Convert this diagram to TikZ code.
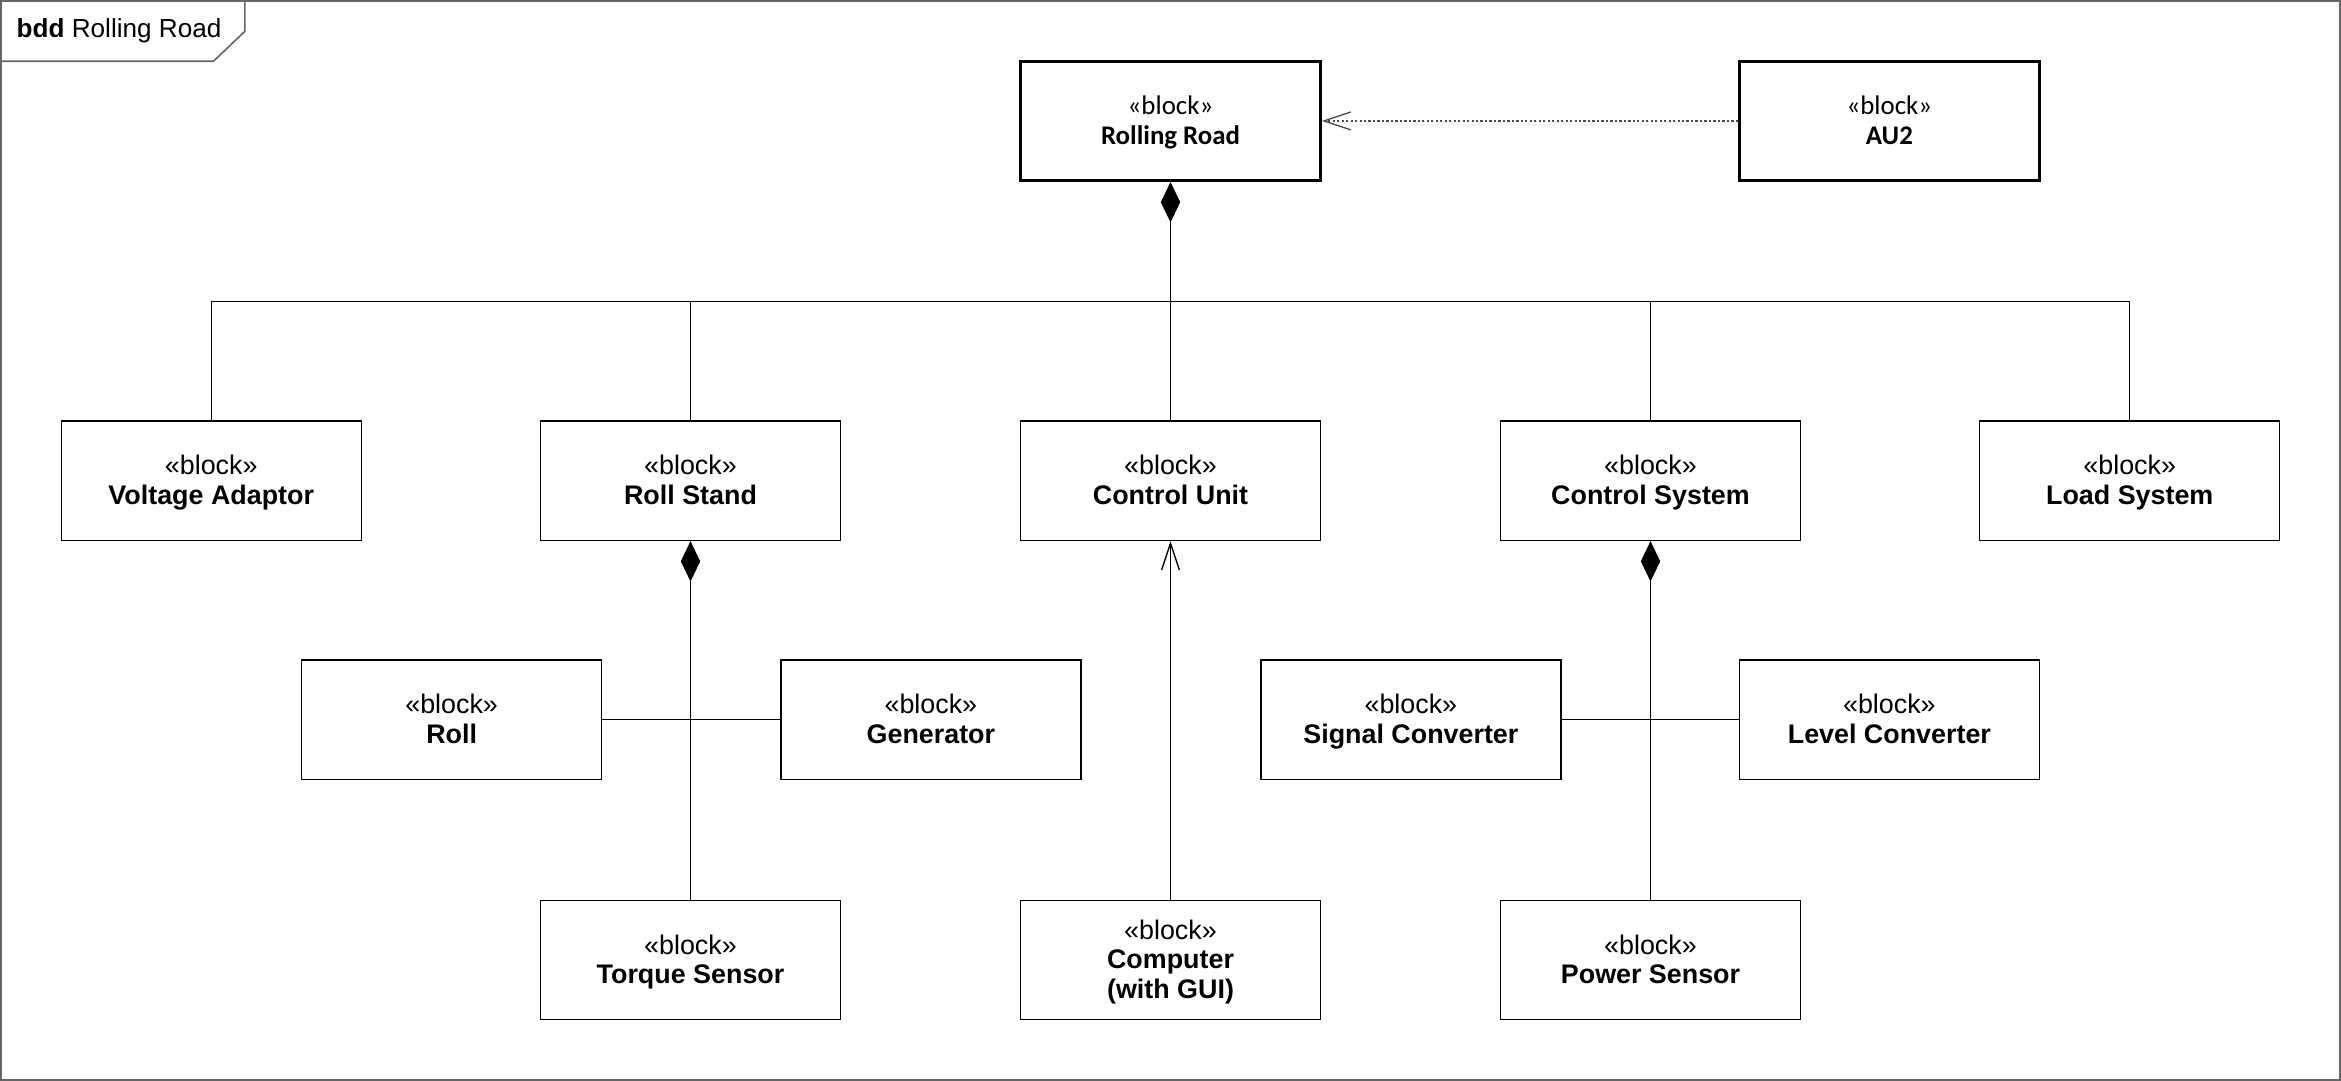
\documentclass[tikz,border=0pt]{standalone}
\usepackage{fontspec}
\setmainfont{Liberation Sans}
\newfontfamily\calibri{Carlito}
\usetikzlibrary{arrows.meta}
\newcommand\topstrut{\rule{0pt}{18pt}}

\begin{document}
\begin{tikzpicture}[x=1pt,y=-1pt,
		block/.style={draw, line width=0.9pt, minimum width=201pt, minimum height=80pt,
			align=center, inner sep=0pt, font=\fontsize{18}{20}\selectfont},
		mainblock/.style={block, line width=1.8pt},
		partof/.style={line width=0.9pt, {Diamond[length=27pt,width=13pt]}-},
		usedby/.style={line width=0.9pt, -{Straight Barb[length=18pt,width=12pt]}}]
			\useasboundingbox (0,0) rectangle (1568,724);
			% Draw diagram frame with its name tab
			\draw[black!60, line width=1.3pt] (0.7,0.7) rectangle (1567.3,723.3);
			\draw[black!60, line width=1.1pt] (0,41) -- (143,41) -- (164,21) -- (164,0);
			\node[anchor=base west, inner sep=0pt, font=\fontsize{17.5}{20}\selectfont] (title) at (11,25) {\textbf{bdd} Rolling Road};
			% Top level blocks
			\node[mainblock] (rr) at (784,81) {\calibri\topstrut«block»\\\calibri\bfseries\strut Rolling Road};
			\node[mainblock] (au) at (1265.5,81) {\calibri\topstrut«block»\\\calibri\bfseries\strut AU2};
			% Parts of the rolling road
			\foreach \name/\x/\label in {va/141.5/Voltage Adaptor, rs/462.5/Roll Stand, cu/784/Control Unit, cs/1105.5/Control System, ls/1426.5/Load System} {
				\node[block] (\name) at (\x,322) {\topstrut«block»\\\strut\textbf{\label}};
			}
			% Parts of roll stand and control system
			\foreach \name/\x/\label in {roll/302.5/Roll, gen/623.5/Generator, sc/945/Signal Converter, lc/1265.5/Level Converter} {
				\node[block] (\name) at (\x,482) {\topstrut«block»\\\strut\textbf{\label}};
			}
			\node[block] (ts) at (462.5,643) {\topstrut«block»\\\strut\textbf{Torque Sensor}};
			\node[block] (pc) at (784,643) {\topstrut«block»\\\strut\textbf{Computer}\\\strut\textbf{(with GUI)}};
			\node[block] (ps) at (1105.5,643) {\topstrut«block»\\\strut\textbf{Power Sensor}};
			% Composition of the rolling road
			\coordinate (bus) at (784,202);
			\draw[partof] (rr.south) -- (bus);
			\draw[line width=0.9pt] (va.north) -- (va.north |- bus) -- (ls.north |- bus) -- (ls.north);
			\foreach \name in {rs, cu, cs} {
				\draw[line width=0.9pt] (\name.north) -- (\name.north |- bus);
			}
			% Composition of roll stand and control system
			\draw[partof] (rs.south) -- (ts.north);
			\draw[line width=0.9pt] (roll.east) -- (gen.west);
			\draw[partof] (cs.south) -- (ps.north);
			\draw[line width=0.9pt] (sc.east) -- (lc.west);
			% Computer talks to control unit, AU2 depends on rolling road
			\draw[usedby] (pc.north) -- (cu.south);
			\draw[usedby, black!70, dash pattern=on 1.5pt off 1.5pt] (au.west) -- (rr.east);
		\end{tikzpicture}
\end{document}
